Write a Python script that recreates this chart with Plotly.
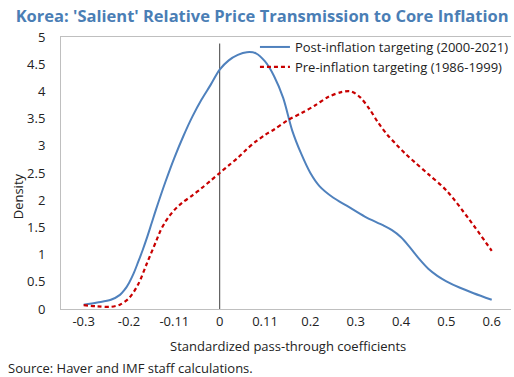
import plotly.graph_objects as go

# Kernel density estimates of standardized pass-through coefficients
post_x = [-0.30, -0.27, -0.24, -0.22, -0.21, -0.20, -0.19, -0.18, -0.17, -0.16,
          -0.15, -0.14, -0.12, -0.10, -0.08, -0.06, -0.04, -0.02, 0.00, 0.02,
          0.04, 0.06, 0.08, 0.10, 0.12, 0.14, 0.16, 0.18, 0.20, 0.22,
          0.25, 0.28, 0.32, 0.36, 0.38, 0.40, 0.42, 0.44, 0.46, 0.48,
          0.50, 0.53, 0.56, 0.60]
post_density = [0.08, 0.12, 0.17, 0.26, 0.35, 0.48, 0.65, 0.86, 1.08, 1.32,
                1.58, 1.84, 2.33, 2.78, 3.18, 3.54, 3.85, 4.12, 4.40, 4.57,
                4.67, 4.72, 4.70, 4.55, 4.28, 3.88, 3.28, 2.85, 2.50, 2.26,
                2.05, 1.90, 1.70, 1.54, 1.45, 1.32, 1.13, 0.92, 0.74, 0.61,
                0.51, 0.39, 0.29, 0.17]

pre_x = [-0.30, -0.27, -0.24, -0.22, -0.20, -0.18, -0.16, -0.14, -0.13, -0.12,
         -0.11, -0.10, -0.09, -0.08, -0.06, -0.04, -0.02, 0.00, 0.02, 0.04,
         0.06, 0.08, 0.10, 0.12, 0.15, 0.18, 0.21, 0.24, 0.27, 0.29,
         0.31, 0.33, 0.35, 0.37, 0.39, 0.41, 0.43, 0.46, 0.50, 0.55, 0.60]
pre_density = [0.07, 0.05, 0.04, 0.08, 0.20, 0.45, 0.85, 1.25, 1.45, 1.60,
               1.72, 1.82, 1.90, 1.97, 2.09, 2.22, 2.36, 2.50, 2.64, 2.78,
               2.94, 3.08, 3.20, 3.30, 3.47, 3.60, 3.74, 3.90, 3.99, 4.00,
               3.89, 3.68, 3.42, 3.20, 3.02, 2.85, 2.70, 2.48, 2.18, 1.65, 1.07]

# Zero reference line
zero_x = [0.0, 0.0]
zero_y = [0.0, 4.88]

tick_vals = [-0.3, -0.2, -0.1, 0.0, 0.1, 0.2, 0.3, 0.4, 0.5, 0.6]
tick_text = ["-0.3", "-0.2", "-0.11", "0", "0.11", "0.2", "0.3", "0.4", "0.5", "0.6"]
y_ticks = [0, 0.5, 1, 1.5, 2, 2.5, 3, 3.5, 4, 4.5, 5]
y_text = ["0", "0.5", "1", "1.5", "2", "2.5", "3", "3.5", "4", "4.5", "5"]

BLUE = "#4F81BD"
RED = "#C80000"
TITLE_BLUE = "#4A7EB5"
FONT = "Open Sans"
FS = 13

L, R, T, B = 61, 0, 37, 68
W, H = 514, 377
plot_w = W - L - R
plot_h = H - T - B


def px_x(x):
    return (x - L) / plot_w


def px_y(y):
    return (H - B - y) / plot_h


fig = go.Figure()
fig.add_trace(go.Scatter(x=zero_x, y=zero_y, mode="lines",
                         line=dict(color="#404040", width=1),
                         showlegend=False, hoverinfo="skip"))
fig.add_trace(go.Scatter(x=post_x, y=post_density, mode="lines",
                         name="Post-inflation targeting (2000-2021)",
                         line=dict(color=BLUE, width=2, shape="spline", smoothing=0.9)))
fig.add_trace(go.Scatter(x=pre_x, y=pre_density, mode="lines",
                         name="Pre-inflation targeting (1986-1999)",
                         line=dict(color=RED, width=2.2, dash="4px,3px",
                                   shape="spline", smoothing=0.9)))

fig.update_layout(
    width=W, height=H,
    margin=dict(l=L, r=R, t=T, b=B),
    paper_bgcolor="white", plot_bgcolor="white",
    font=dict(family=FONT, size=FS, color="#222222"),
    title=dict(text="<b>Korea: 'Salient' Relative Price Transmission to Core Inflation</b>",
               font=dict(family=FONT, size=16.5, color=TITLE_BLUE),
               x=0.51, xref="container", xanchor="center",
               y=1 - 16 / H, yref="container", yanchor="middle"),
    legend=dict(x=0.431, y=1 + 5 / plot_h, xanchor="left", yanchor="top",
                bgcolor="rgba(255,255,255,0)", font=dict(size=FS, family=FONT),
                tracegroupgap=0, itemwidth=30),
    xaxis=dict(range=[-0.35, 0.6425], tickvals=tick_vals, ticktext=tick_text,
               showgrid=False, zeroline=False, showline=True, mirror=True,
               linecolor="#BFBFBF", linewidth=1, ticks="",
               tickfont=dict(size=FS)),
    yaxis=dict(range=[0, 5], tickvals=y_ticks, ticktext=y_text,
               showgrid=False, zeroline=False, showline=True,
               linecolor="#BFBFBF", linewidth=1, ticks="",
               ticklabelstandoff=12, tickfont=dict(size=FS)),
    annotations=[
        dict(text="Standardized pass-through coefficients", x=px_x(290), y=px_y(346),
             xref="paper", yref="paper", xanchor="center", yanchor="middle",
             showarrow=False, font=dict(size=FS)),
        dict(text="Density", textangle=-90, x=px_x(18), y=px_y(196),
             xref="paper", yref="paper", xanchor="center", yanchor="middle",
             showarrow=False, font=dict(size=FS)),
        dict(text="Source: Haver and IMF staff calculations.", x=px_x(6), y=px_y(368),
             xref="paper", yref="paper", xanchor="left", yanchor="middle",
             showarrow=False, font=dict(size=FS)),
    ],
)

fig.write_html("out.html")
